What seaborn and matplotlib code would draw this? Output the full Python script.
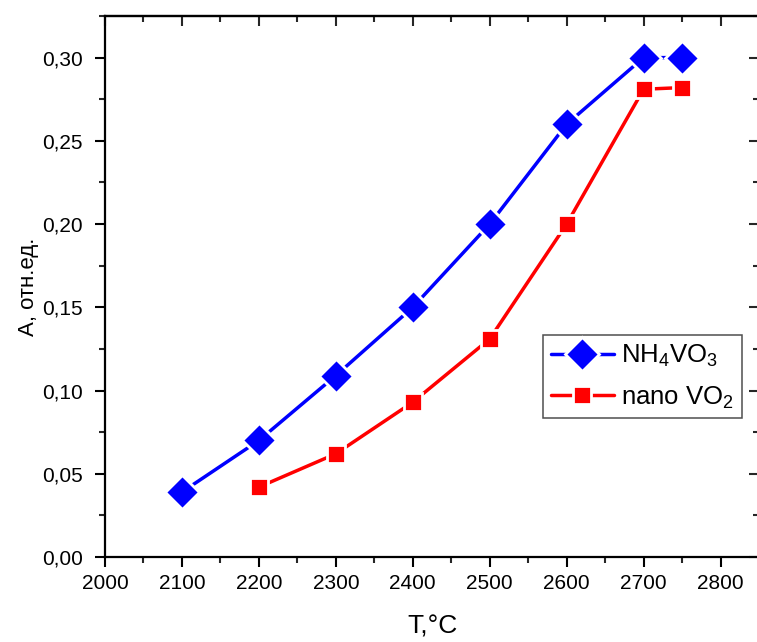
import matplotlib
matplotlib.use("Agg")
import matplotlib.pyplot as plt
import seaborn as sns
import pandas as pd
from matplotlib.ticker import MultipleLocator, FuncFormatter

sns.set_style("ticks")
plt.rcParams['font.family'] = ['Liberation Sans', 'DejaVu Sans']
plt.rcParams['mathtext.fontset'] = 'custom'
plt.rcParams['mathtext.rm'] = 'Liberation Sans'
plt.rcParams['mathtext.it'] = 'Liberation Sans:italic'
plt.rcParams['text.color'] = 'black'
plt.rcParams['axes.labelcolor'] = 'black'

t_nh4 = [2100, 2200, 2300, 2400, 2500, 2600, 2700, 2750]
a_nh4 = [0.039, 0.070, 0.109, 0.150, 0.200, 0.260, 0.300, 0.300]
t_vo2 = [2200, 2300, 2400, 2500, 2600, 2700, 2750]
a_vo2 = [0.042, 0.062, 0.093, 0.131, 0.200, 0.281, 0.282]
labels = [r"NH$_\mathregular{4}$VO$_\mathregular{3}$", r"nano VO$_\mathregular{2}$"]

df1 = pd.DataFrame({"T": t_nh4, "A": a_nh4})
df2 = pd.DataFrame({"T": t_vo2, "A": a_vo2})

fig = plt.figure(figsize=(7.57, 6.42), dpi=100)
ax = fig.add_axes([105/757, (642-557)/642, (759-105)/757, (557-16)/642])

sns.lineplot(data=df1, x="T", y="A", ax=ax, color="#0000ff", lw=2.5,
             marker="D", markersize=17.5, markeredgecolor="white", markeredgewidth=2.0,
             label=labels[0])
sns.lineplot(data=df2, x="T", y="A", ax=ax, color="#ff0000", lw=2.5,
             marker="s", markersize=13, markeredgecolor="white", markeredgewidth=2.0,
             label=labels[1])

ax.set_xlim(2000, 2850)
ax.set_ylim(0, 0.325)
ax.xaxis.set_major_locator(MultipleLocator(100))
ax.xaxis.set_minor_locator(MultipleLocator(50))
ax.yaxis.set_major_locator(MultipleLocator(0.05))
ax.yaxis.set_minor_locator(MultipleLocator(0.025))
ax.yaxis.set_major_formatter(FuncFormatter(lambda v, p: f"{v:.2f}".replace(".", ",")))
ax.xaxis.set_major_formatter(FuncFormatter(lambda v, p: f"{v:.0f}" if v <= 2800 else ""))

for s in ax.spines.values():
    s.set_linewidth(1.6)
    s.set_color("black")

ax.tick_params(which="major", direction="out", length=7, width=1.5, labelsize=15,
               colors="black")
ax.tick_params(which="minor", direction="out", length=4, width=1.5)
ax.tick_params(axis="x", which="major", pad=5)
ax.tick_params(axis="y", which="major", pad=9)

secx = ax.secondary_xaxis("top")
secx.xaxis.set_major_locator(MultipleLocator(100))
secx.xaxis.set_minor_locator(MultipleLocator(50))
secx.tick_params(which="major", direction="in", length=7, width=1.5, labeltop=False)
secx.tick_params(which="minor", direction="in", length=4, width=1.5)
secx.spines["top"].set_linewidth(1.6)

secy = ax.secondary_yaxis("right")
secy.yaxis.set_major_locator(MultipleLocator(0.05))
secy.yaxis.set_minor_locator(MultipleLocator(0.025))
secy.tick_params(which="major", direction="in", length=7, width=1.5, labelright=False)
secy.tick_params(which="minor", direction="in", length=4, width=1.5)

ax.set_xlabel("T,°C", fontsize=19, labelpad=16)
ax.set_ylabel("A, отн.ед.", fontsize=16, labelpad=2)

leg = ax.legend(loc="upper left", bbox_to_anchor=((543-105)/654, (557-335)/541),
                fontsize=18.5, frameon=True, fancybox=False, borderpad=0.3,
                handlelength=2.45, handletextpad=0.3, labelspacing=0.6, borderaxespad=0)
leg.get_frame().set_edgecolor("#222222")
leg.get_frame().set_linewidth(1.1)

fig.savefig("out.png", dpi=100)
